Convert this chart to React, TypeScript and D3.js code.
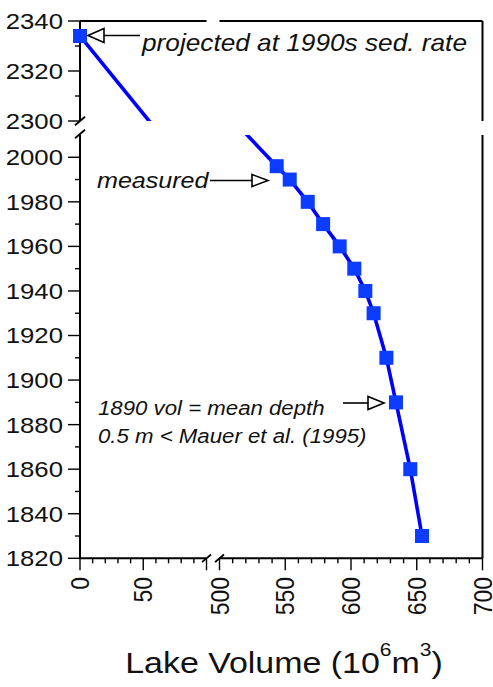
import React from "react";
import * as d3 from "d3";

// Measured lake volume (10^6 m^3) by survey year
const YEARS = [1996, 1990, 1980, 1970, 1960, 1950, 1940, 1930, 1910, 1890, 1860, 1830];
const VOLUMES = [543.5, 553.4, 567.1, 578.8, 591.4, 602.5, 610.9, 617.2, 626.9, 634.2, 645.1, 654.0];

// Year the lake fills in at the 1990s sedimentation rate
const PROJECTED_YEAR = 2334;
const PROJECTED_VOLUME = 0;

// Axis ticks for the broken axes
const Y_TICKS_UPPER = [2300, 2320, 2340];
const Y_TICKS_LOWER = [1820, 1840, 1860, 1880, 1900, 1920, 1940, 1960, 1980, 2000];
const X_TICKS_LEFT = [0, 50];
const X_TICKS_RIGHT = [500, 550, 600, 650, 700];

const W = 493;
const H = 687;
const FONT = "'Liberation Sans', Arial, Helvetica, sans-serif";
const SX = 1.14; // horizontal stretch of the lettering
const LINE_BLUE = "#0000ff";
const MARK_BLUE = "#0b3cff";

const xLeft = d3.scaleLinear().domain([0, 100]).range([80, 206.5]);
const xRight = d3.scaleLinear().domain([500, 700]).range([219.5, 482.5]);
const yUpper = d3.scaleLinear().domain([2300, 2340]).range([121, 21]);
const yLower = d3.scaleLinear().domain([1820, 2010]).range([558.3, 135]);

type Pt = { v: number; y: number };
const series: Pt[] = [
  { v: PROJECTED_VOLUME, y: PROJECTED_YEAR },
  ...YEARS.map((y, i) => ({ v: VOLUMES[i], y })),
];

const lineUL = d3.line<Pt>().x((d) => xLeft(d.v)).y((d) => yUpper(d.y));
const lineLR = d3.line<Pt>().x((d) => xRight(d.v)).y((d) => yLower(d.y));

const Arrow = ({ x1, x2, tip, base, y, h }: { x1: number; x2: number; tip: number; base: number; y: number; h: number }) => (
  <g>
    <line x1={x1} x2={x2} y1={y} y2={y} stroke="#000" strokeWidth={1.6} />
    <path d={`M${tip},${y}L${base},${y - h}L${base},${y + h}Z`} fill="#fff" stroke="#000" strokeWidth={1.6} strokeLinejoin="miter" />
  </g>
);

const Label = ({ x, y, size, italic, anchor, children }: any) => (
  <text
    transform={`translate(${x},${y}) scale(${SX},1)`}
    fontSize={size}
    fontStyle={italic ? "italic" : "normal"}
    textAnchor={anchor || "start"}
    fontFamily={FONT}
    fill="#111"
  >
    {children}
  </text>
);

export default function App() {
  const yMinorUpper = d3.range(2300, 2341, 10).filter((v) => !Y_TICKS_UPPER.includes(v));
  const yMinorLower = d3.range(1820, 2001, 10).filter((v) => !Y_TICKS_LOWER.includes(v));
  const xMinorLeft = d3.range(0, 101, 10).filter((v) => v % 50 !== 0);
  const xMinorRight = d3.range(500, 701, 10).filter((v) => v % 50 !== 0);
  const axisY = 558.3;
  const axisX = 80;
  const brk = (x: number, y: number, k: number) => (
    <line x1={x - k} y1={y + k * 0.85} x2={x + k} y2={y - k * 0.85} stroke="#000" strokeWidth={1.8} />
  );

  return (
    <svg
      width={W}
      height={H}
      viewBox={`0 0 ${W} ${H}`}
      style={{ position: "fixed", left: 0, top: 0, background: "#fff" }}
    >
      <rect width={W} height={H} fill="#fff" />
      <defs>
        <clipPath id="clip-ul">
          <rect x={80} y={21} width={126.5} height={100} />
        </clipPath>
        <clipPath id="clip-lr">
          <rect x={219.5} y={135} width={263} height={423.3} />
        </clipPath>
      </defs>

      {/* data line, clipped to each panel of the broken axes */}
      <path d={lineUL(series) || ""} fill="none" stroke={LINE_BLUE} strokeWidth={3.6} clipPath="url(#clip-ul)" />
      <path d={lineLR(series) || ""} fill="none" stroke={LINE_BLUE} strokeWidth={3.6} clipPath="url(#clip-lr)" />

      {/* frame */}
      <g stroke="#000" strokeWidth={2} fill="none">
        <line x1={axisX} x2={axisX} y1={21} y2={121} />
        <line x1={axisX} x2={axisX} y1={135} y2={axisY} />
        <line x1={80} x2={206.5} y1={21} y2={21} />
        <line x1={219.5} x2={482.5} y1={21} y2={21} />
        <line x1={482.5} x2={482.5} y1={21} y2={121} />
        <line x1={482.5} x2={482.5} y1={135} y2={axisY} />
        <line x1={80} x2={206.5} y1={axisY} y2={axisY} />
        <line x1={219.5} x2={482.5} y1={axisY} y2={axisY} />
      </g>
      {brk(axisX, 121, 5)}
      {brk(axisX, 134, 5)}
      {brk(206.5, axisY, 4.5)}
      {brk(219.5, axisY, 4.5)}

      {/* y ticks */}
      <g stroke="#000" strokeWidth={1.4}>
        {Y_TICKS_UPPER.map((t) => (
          <line key={`yu${t}`} x1={68} x2={axisX} y1={yUpper(t)} y2={yUpper(t)} />
        ))}
        {yMinorUpper.map((t) => (
          <line key={`yum${t}`} x1={75} x2={axisX} y1={yUpper(t)} y2={yUpper(t)} />
        ))}
        {Y_TICKS_LOWER.map((t) => (
          <line key={`yl${t}`} x1={68} x2={axisX} y1={yLower(t)} y2={yLower(t)} />
        ))}
        {yMinorLower.map((t) => (
          <line key={`ylm${t}`} x1={75} x2={axisX} y1={yLower(t)} y2={yLower(t)} />
        ))}
        {/* x ticks */}
        {[...X_TICKS_LEFT, 100].map((t) => (
          <line key={`xl${t}`} x1={xLeft(t)} x2={xLeft(t)} y1={axisY} y2={axisY + 12} />
        ))}
        {xMinorLeft.map((t) => (
          <line key={`xlm${t}`} x1={xLeft(t)} x2={xLeft(t)} y1={axisY} y2={axisY + 5} />
        ))}
        {X_TICKS_RIGHT.map((t) => (
          <line key={`xr${t}`} x1={xRight(t)} x2={xRight(t)} y1={axisY} y2={axisY + 12} />
        ))}
        {xMinorRight.map((t) => (
          <line key={`xrm${t}`} x1={xRight(t)} x2={xRight(t)} y1={axisY} y2={axisY + 5} />
        ))}
      </g>

      {/* y tick labels */}
      <g fontFamily={FONT} fontSize={22} fill="#111">
        {Y_TICKS_UPPER.map((t) => (
          <text key={`lyu${t}`} transform={`translate(63,${yUpper(t)}) scale(1.17,1)`} textAnchor="end" dy="0.36em">
            {t}
          </text>
        ))}
        {Y_TICKS_LOWER.map((t) => (
          <text key={`lyl${t}`} transform={`translate(63,${yLower(t)}) scale(1.17,1)`} textAnchor="end" dy="0.36em">
            {t}
          </text>
        ))}
      </g>

      {/* x tick labels, rotated */}
      <g fontFamily={FONT} fontSize={23} fill="#111">
        {X_TICKS_LEFT.map((t) => (
          <text key={`lxl${t}`} transform={`translate(${xLeft(t)},577) scale(1.1,1) rotate(-90)`} textAnchor="end" dy="0.36em">
            {t}
          </text>
        ))}
        {X_TICKS_RIGHT.map((t) => (
          <text key={`lxr${t}`} transform={`translate(${xRight(t)},577) scale(1.1,1) rotate(-90)`} textAnchor="end" dy="0.36em">
            {t}
          </text>
        ))}
      </g>

      {/* markers */}
      <rect
        x={xLeft(PROJECTED_VOLUME) - 7}
        y={yUpper(PROJECTED_YEAR) - 7}
        width={14}
        height={14}
        fill={MARK_BLUE}
      />
      {YEARS.map((y, i) => (
        <rect key={`m${y}`} x={xRight(VOLUMES[i]) - 7} y={yLower(y) - 7} width={14} height={14} fill={MARK_BLUE} />
      ))}

      {/* annotations */}
      <Arrow x1={140} x2={104} base={104} tip={88} y={35.5} h={7} />
      <Label x={142} y={51} size={23} italic>
        projected at 1990s sed. rate
      </Label>

      <Arrow x1={210} x2={252} base={252} tip={268} y={180.5} h={6} />
      <Label x={97} y={188} size={22} italic>
        measured
      </Label>

      <Arrow x1={343} x2={368} base={368} tip={384} y={403} h={6.5} />
      <Label x={98} y={415} size={19.5} italic>
        1890 vol = mean depth
      </Label>
      <Label x={98} y={442.5} size={19.5} italic>
        0.5 m &lt; Mauer et al. (1995)
      </Label>

      {/* axis title */}
      <text
        transform={`translate(284,673) scale(1.17,1)`}
        textAnchor="middle"
        fontFamily={FONT}
        fontSize={29}
        fill="#111"
      >
        Lake Volume (10
        <tspan fontSize={18} dy={-17}>6</tspan>
        <tspan dy={17}>m</tspan>
        <tspan fontSize={18} dy={-17}>3</tspan>
        <tspan dy={17}>)</tspan>
      </text>
    </svg>
  );
}
